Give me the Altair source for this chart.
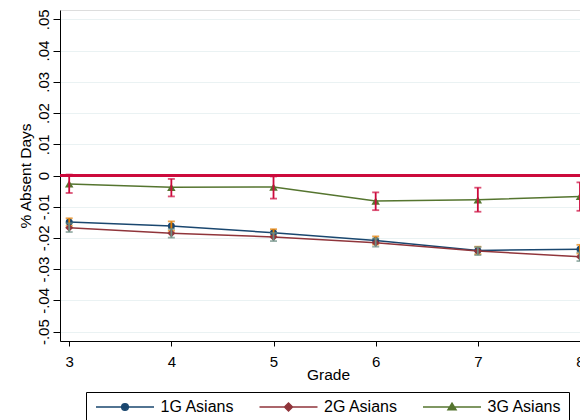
import altair as alt
import pandas as pd

# Data

GRADES = [3, 4, 5, 6, 7, 8]
SERIES = ['1G Asians', '2G Asians', '3G Asians']

G1_MEAN = [-0.0149, -0.0162, -0.0183, -0.0208, -0.0240, -0.0236]
G1_LO = [-0.0161, -0.0177, -0.0194, -0.0221, -0.0252, -0.0250]
G1_HI = [-0.0137, -0.0147, -0.0172, -0.0195, -0.0228, -0.0222]

G2_MEAN = [-0.0167, -0.0185, -0.0197, -0.0215, -0.0242, -0.0260]
G2_LO = [-0.0181, -0.0199, -0.0210, -0.0228, -0.0255, -0.0274]
G2_HI = [-0.0153, -0.0171, -0.0184, -0.0202, -0.0229, -0.0246]

G3_MEAN = [-0.0027, -0.0038, -0.0037, -0.0082, -0.0078, -0.0067]
G3_LO = [-0.0056, -0.0067, -0.0074, -0.0111, -0.0116, -0.0113]
G3_HI = [0.0003, -0.0011, -0.0003, -0.0054, -0.0039, -0.0022]

Y_TICKS = [-0.05, -0.04, -0.03, -0.02, -0.01, 0, 0.01, 0.02, 0.03, 0.04, 0.05]

# Styles

FONT = 'Liberation Sans'
LINE_COLORS = ['#1a476f', '#90353b', '#55752f']
CI_COLORS = ['#e37e00', '#6e8e84', '#cc0a3c']
SHAPES = ['circle', 'diamond', 'triangle-up']
SIZES = [49, 64, 72]
ZERO_COLOR = '#cc0a3c'

# legend symbols: a line with the marker in the middle (units of 5px)
_LINE = 'M-1,0H10.6'
LEGEND_SHAPES = [
  _LINE + 'M4.14,0A0.66,0.66 0 1,0 5.46,0A0.66,0.66 0 1,0 4.14,0Z',
  _LINE + 'M4.8,-0.8L5.6,0L4.8,0.8L4,0Z',
  _LINE + 'M4.8,-0.75L5.6,0.55L4,0.55Z',
]

rows = []
for name, means, los, his in zip(
  SERIES, [G1_MEAN, G2_MEAN, G3_MEAN], [G1_LO, G2_LO, G3_LO], [G1_HI, G2_HI, G3_HI]
):
  for g, m, lo, hi in zip(GRADES, means, los, his):
    rows.append({'series': name, 'grade': g, 'mean': m, 'lo': lo, 'hi': hi})
df = pd.DataFrame(rows)

# Scales and axes

x_scale = alt.Scale(domain=[2.91, 8.0], nice=False, zero=False)
y_scale = alt.Scale(domain=[-0.053, 0.053], nice=False, zero=False)

x_axis = alt.Axis(
  values=GRADES, tickCount=len(GRADES), format='d', grid=False, tickSize=5, tickColor='black',
  domainColor='black', labelFontSize=15, labelColor='black', labelFont=FONT,
  labelPadding=20, labelBaseline='alphabetic', labelFlush=False, labelOverlap=False,
  titleFontSize=15.5, titleFontWeight='normal', titleColor='black', titleFont=FONT,
  titleX=268, titleY=38.5, titleAlign='center', titleBaseline='alphabetic'
)
y_axis = alt.Axis(
  values=Y_TICKS, tickCount=len(Y_TICKS), grid=True, gridColor='#eaf2f3', gridWidth=1,
  tickSize=7, tickColor='black', domainColor='black',
  labelExpr="datum.value == 0 ? '0' : (datum.value < 0 ? '-' : '') + replace(format(abs(datum.value), '.2f'), '0.', '.')",
  labelAngle=270, labelAlign='center', labelBaseline='alphabetic', labelPadding=5,
  labelFontSize=15, labelColor='black', labelFont=FONT, labelOverlap=False,
  titleFontSize=15.5, titleFontWeight='normal', titleColor='black', titleFont=FONT,
  titleAngle=270, titleX=-30, titleY=165.5, titleAlign='center', titleBaseline='alphabetic'
)

def _x() -> alt.X:
  return alt.X('grade:Q', scale=x_scale, axis=x_axis, title='Grade')

def _y(field: str) -> alt.Y:
  return alt.Y(field, scale=y_scale, axis=y_axis, title='% Absent Days')

base = alt.Chart(df)

zero = base.mark_rule(color=ZERO_COLOR, strokeWidth=1.8).encode(y=alt.datum(0))

layers = [zero]
for name, color, ci, shape, size in zip(SERIES, LINE_COLORS, CI_COLORS, SHAPES, SIZES):
  part = base.transform_filter(alt.datum.series == name)
  layers.append(part.mark_line(color=color, strokeWidth=1.5).encode(x=_x(), y=_y('mean:Q')))
  layers.append(part.mark_point(
    filled=True, shape=shape, size=size, color=color, opacity=1
  ).encode(x=_x(), y=_y('mean:Q')))
  layers.append(part.mark_errorbar(
    ticks=True, size=7, thickness=1.8, color=ci
  ).encode(x=_x(), y=_y('lo:Q'), y2='hi:Q'))

# legend only: no data, explicit domains
legend_opts = alt.Legend(
  orient='none', legendX=26, legendY=382, direction='horizontal', title=None,
  padding=7, strokeColor='black', fillColor='white',
  labelFontSize=16, labelFont=FONT, labelColor='black', labelOffset=51.5,
  columnPadding=21.5, symbolSize=100, symbolStrokeWidth=1.5
)
legend = base.transform_filter('false').mark_point(filled=True, opacity=1).encode(
  fill=alt.Fill('series:N', scale=alt.Scale(domain=SERIES, range=LINE_COLORS), legend=legend_opts),
  stroke=alt.Stroke('series:N', scale=alt.Scale(domain=SERIES, range=LINE_COLORS), legend=legend_opts),
  shape=alt.Shape('series:N', scale=alt.Scale(domain=SERIES, range=LEGEND_SHAPES), legend=legend_opts)
)
layers.append(legend)

# the page is 572px wide inside its margins: the svg must not be wider
chart = alt.layer(*layers).properties(
  width=520, height=331,
  autosize=alt.AutoSizeParams(type='none'),
  padding={'left': 52, 'top': 2, 'right': 0, 'bottom': 79}
).configure_view(
  stroke='transparent'
).configure(
  font=FONT, background='white'
)

chart.save('out.html', embed_options={'renderer': 'svg', 'actions': False})
